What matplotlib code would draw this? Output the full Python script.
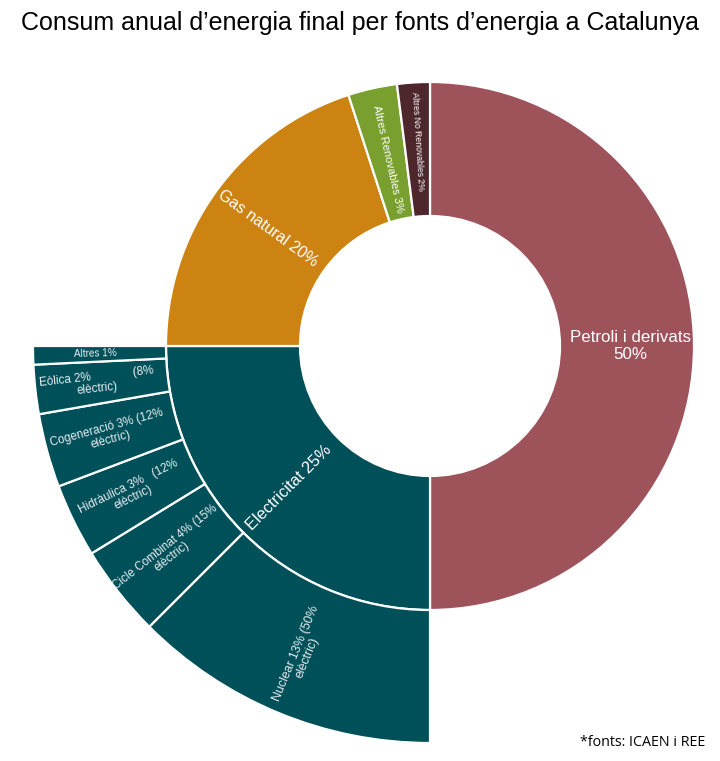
import numpy as np
import matplotlib
matplotlib.use("Agg")
import matplotlib.pyplot as plt

# inner ring: main energy sources (% of final energy)
fonts = ["Petroli i derivats\n50%", "Electricitat 25%", "Gas natural 20%",
         "Altres Renovables 3%", "Altres No Renovables 2%"]
fonts_vals = [50, 25, 20, 3, 2]
fonts_colors = ["#9E535B", "#00505A", "#CC8312", "#79A02E", "#4E272D"]

# outer ring: breakdown of electricity (share of total = share of 25%)
elec = ["Nuclear 13% (50%\nelèctric)", "Cicle Combinat 4% (15%\nelèctric)",
        "Hidràulica 3%   (12%\nelèctric)", "Cogeneració 3% (12%\nelèctric)",
        "Eòlica 2%             (8%\nelèctric)", "Altres 1%"]
elec_pct = [50, 15, 12, 12, 8, 3]
elec_vals = [p * 25 / 100 for p in elec_pct]

R_HOLE, R_IN, R_OUT = 130, 264, 397
CX, CY = 430, 346   # centre in pixels from top-left

fig = plt.figure(figsize=(7.2, 7.61), dpi=100)
ax = fig.add_axes([0, 0, 1, 1])

edge = dict(edgecolor="white", linewidth=1.6)

w_in, _ = ax.pie(fonts_vals, radius=R_IN, startangle=90, counterclock=False,
                 colors=fonts_colors, wedgeprops=dict(width=R_IN - R_HOLE, **edge))

w_out, _ = ax.pie(elec_vals + [100 - sum(elec_vals)], radius=R_OUT, startangle=-90,
                  counterclock=False, colors=["#00505A"] * 6 + ["white"],
                  wedgeprops=dict(width=R_OUT - R_IN, **edge))
w_out[-1].set_visible(False)

ax.set_xlim(-CX, 720 - CX)
ax.set_ylim(-(761 - CY), CY)
ax.set_aspect("equal")
ax.axis("off")


def put_label(w, text, r, size, horiz=False, color="white", ls=1.05):
    ang = (w.theta1 + w.theta2) / 2
    x = r * np.cos(np.radians(ang))
    y = r * np.sin(np.radians(ang))
    rot = 0 if horiz else ang - 180
    ax.text(x, y, text, rotation=rot, rotation_mode="anchor", ha="center", va="center",
            color=color, fontsize=size, linespacing=ls, family="Liberation Sans")


in_sizes = [12.2, 11.8, 11.5, 8, 6.2]
in_r = [200, 200, 200, 192, 205]
for i, w in enumerate(w_in):
    put_label(w, fonts[i], in_r[i], in_sizes[i], horiz=(i == 0), ls=1.2)

out_sizes = [8.8, 8.4, 8.4, 8.4, 8.4, 7.2]
out_r = [335, 333, 333, 333, 335, 335]
for i, w in enumerate(w_out[:-1]):
    put_label(w, elec[i], out_r[i], out_sizes[i], color="#E8EEEF")

fig.text(0.5, 1 - 23 / 761, "Consum anual d\u2019energia final per fonts d\u2019energia a Catalunya",
         ha="center", va="center", fontsize=18, family="Liberation Sans")
fig.text(705 / 720, 1 - 743 / 761, "*fonts: ICAEN i REE", ha="right", va="center",
         fontsize=10.3, family="Open Sans")

fig.savefig("out.png", dpi=100)
